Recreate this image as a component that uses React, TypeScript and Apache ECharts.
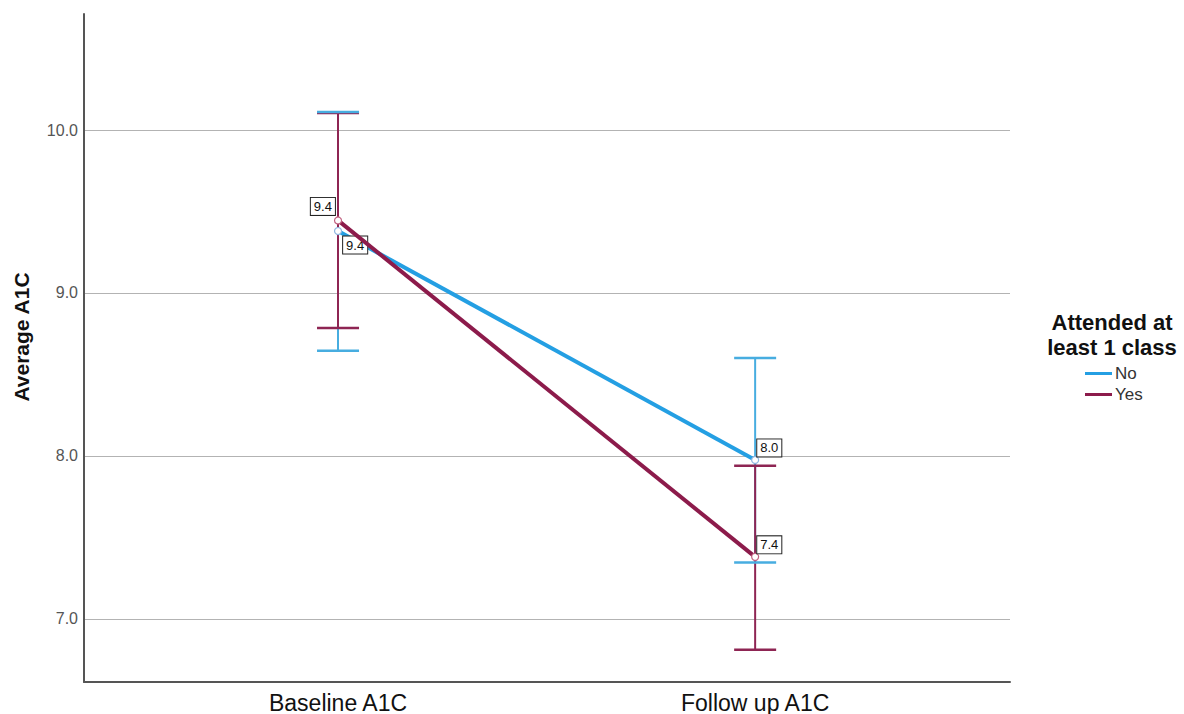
import React, { useEffect, useRef } from "react";
import * as echarts from "echarts";

const categories = ["Baseline A1C", "Follow up A1C"];
const yTicks = [7, 8, 9, 10];
const noMeans = [9.38, 7.975];
const noLow = [8.645, 7.345];
const noHigh = [10.11, 8.6];
const yesMeans = [9.445, 7.38];
const yesLow = [8.785, 6.81];
const yesHigh = [10.105, 7.94];
const noLabels = ["9.4", "8.0"];
const yesLabels = ["9.4", "7.4"];

const FONT = "'Liberation Sans', Arial, sans-serif";
const BLUE = "#249fe3";
const BLUE_BAR = "#47ade0";
const MAROON = "#8c1b4b";
const MAROON_BAR = "#8e2553";

function errorSeries(name: string, lows: number[], highs: number[], color: string, z: number, part: "stem" | "caps") {
  return {
    type: "custom",
    name,
    z,
    silent: true,
    data: lows.map((l, i) => [i, l, highs[i]]),
    renderItem: (params: any, api: any) => {
      const x = api.value(0);
      const lo = api.coord([x, api.value(1)]);
      const hi = api.coord([x, api.value(2)]);
      const hw = 21;
      const stemStyle = { stroke: color, lineWidth: 2 };
      const capStyle = { stroke: color, lineWidth: 2.5 };
      const children =
        part === "stem"
          ? [{ type: "line", shape: { x1: lo[0], y1: lo[1], x2: hi[0], y2: hi[1] }, style: stemStyle }]
          : [
              { type: "line", shape: { x1: lo[0] - hw, y1: lo[1], x2: lo[0] + hw, y2: lo[1] }, style: capStyle },
              { type: "line", shape: { x1: hi[0] - hw, y1: hi[1], x2: hi[0] + hw, y2: hi[1] }, style: capStyle },
            ];
      return { type: "group", children };
    },
  };
}

const labelBox = {
  show: true,
  color: "#111",
  fontSize: 13,
  fontFamily: FONT,
  backgroundColor: "#fff",
  borderColor: "#222",
  borderWidth: 1,
  padding: [2, 3, 2, 3],
};

export default function App() {
  const ref = useRef<HTMLDivElement>(null);
  useEffect(() => {
    if (!ref.current) return;
    const chart = echarts.init(ref.current, null, { renderer: "svg" });
    const labelFor = (texts: string[], placements: any[]) =>
      texts.map((t, i) => ({ ...labelBox, formatter: t, ...placements[i] }));
    const noLab = labelFor(noLabels, [
      { position: "right", distance: 1, offset: [0, 14] },
      { position: "right", distance: -2, offset: [0, -12] },
    ]);
    const yesLab = labelFor(yesLabels, [
      { position: "left", distance: -1, offset: [0, -14] },
      { position: "right", distance: -2, offset: [0, -12] },
    ]);
    chart.setOption({
      animation: false,
      backgroundColor: "#fff",
      textStyle: { fontFamily: FONT },
      title: {
        text: "Attended at\nleast 1 class",
        left: 1107,
        top: 305,
        textAlign: "center",
        textStyle: { fontSize: 22, fontWeight: "bold", lineHeight: 25, color: "#111", fontFamily: FONT },
      },
      legend: {
        data: [
          { name: "No", itemStyle: { color: BLUE, borderWidth: 0 } },
          { name: "Yes", itemStyle: { color: MAROON, borderWidth: 0 } },
        ],
        orient: "vertical",
        left: 1080,
        top: 360,
        icon: "rect",
        itemWidth: 27,
        itemHeight: 3,
        itemGap: 4,
        textStyle: { fontSize: 17, color: "#333", fontFamily: FONT, padding: [0, 0, 0, -2] },
      },
      grid: { left: 84, right: 174, top: 14, bottom: 31 },
      xAxis: {
        type: "value",
        min: -0.609,
        max: 1.611,
        axisLine: { show: true, lineStyle: { color: "#555", width: 2 } },
        axisTick: { show: false, customValues: [0, 1] },
        splitLine: { show: false },
        axisLabel: {
          customValues: [0, 1],
          formatter: (v: number) => categories[Math.round(v)] ?? "",
          color: "#111",
          fontSize: 23,
          margin: 9,
          fontFamily: FONT,
        },
      },
      yAxis: {
        type: "value",
        min: 6.612,
        max: 10.712,
        name: "Average A1C",
        nameLocation: "middle",
        nameGap: 52,
        nameTextStyle: { fontSize: 21, fontWeight: "bold", color: "#111", fontFamily: FONT, padding: [0, 0, 0, 22] },
        axisLine: { show: true, onZero: false, lineStyle: { color: "#555", width: 2 } },
        axisTick: { show: false, customValues: yTicks },
        splitLine: { show: true, lineStyle: { color: "#b3b3b3", width: 1 } },
        axisLabel: {
          customValues: yTicks,
          formatter: (v: number) => v.toFixed(1),
          color: "#555",
          fontSize: 16,
          margin: 6,
          fontFamily: FONT,
        },
      },
      series: [
        errorSeries("No error stem", noLow, noHigh, BLUE_BAR, 2, "stem"),
        errorSeries("Yes error stem", yesLow, yesHigh, MAROON_BAR, 3, "stem"),
        errorSeries("Yes error caps", yesLow, yesHigh, MAROON_BAR, 3, "caps"),
        errorSeries("No error caps", noLow, noHigh, BLUE_BAR, 3, "caps"),
        {
          type: "line",
          name: "No",
          z: 4,
          color: BLUE,
          lineStyle: { width: 4, color: BLUE },
          symbol: "circle",
          symbolSize: 7,
          itemStyle: { color: "#fff", borderColor: "#8fb6e0", borderWidth: 1.2 },
          data: noMeans.map((v, i) => ({ value: [i, v], label: noLab[i] })),
        },
        {
          type: "line",
          name: "Yes",
          z: 5,
          color: MAROON,
          lineStyle: { width: 4, color: MAROON },
          symbol: "circle",
          symbolSize: 7,
          itemStyle: { color: "#fff", borderColor: "#c0607f", borderWidth: 1.2 },
          data: yesMeans.map((v, i) => ({ value: [i, v], label: yesLab[i] })),
        },
      ],
    });
    return () => chart.dispose();
  }, []);
  return <div ref={ref} style={{ width: 1184, height: 714, position: "fixed", left: 0, top: 0 }} />;
}
